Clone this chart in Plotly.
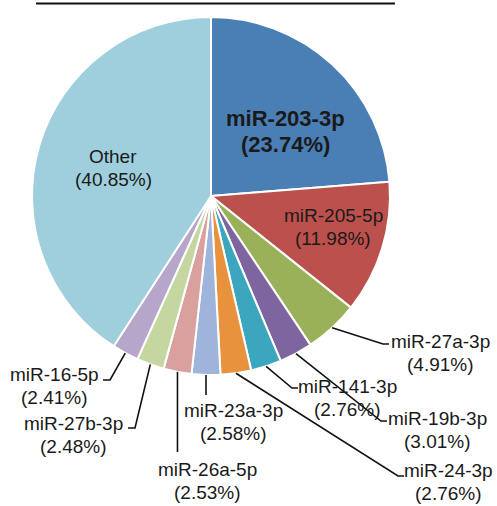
import math
import plotly.graph_objects as go

# miRNA read share (%), clockwise from 12 o'clock
mirnas = ["miR-203-3p", "miR-205-5p", "miR-27a-3p", "miR-19b-3p", "miR-141-3p",
          "miR-24-3p", "miR-23a-3p", "miR-26a-5p", "miR-27b-3p", "miR-16-5p", "Other"]
shares = [23.74, 11.98, 4.91, 3.01, 2.76, 2.76, 2.58, 2.53, 2.48, 2.41, 40.85]
colors = ["#4A7FB5", "#BC504C", "#99B25A", "#7E65A0", "#3CA6BF", "#E8923E",
          "#9EB4DA", "#D9A09E", "#C5D7A1", "#B5A6CA", "#9FCEDD"]

W, H = 497, 506
CX, CY, R = 211, 196, 179  # pie centre and radius in pixels
FONT = "Liberation Sans, Arial, sans-serif"


def px(x):
    return x / W


def py(y):
    return 1 - y / H


fig = go.Figure(go.Pie(
    labels=mirnas,
    values=shares,
    sort=False,
    direction="clockwise",
    rotation=0,
    marker=dict(colors=colors, line=dict(color="white", width=2)),
    textinfo="none",
    hoverinfo="label+percent",
    domain=dict(x=[px(CX - R), px(CX + R)], y=[py(CY + R), py(CY - R)]),
    showlegend=False,
))

# label placement: text-block centre, and leader-line elbow/end points
label_layout = {
    "miR-203-3p": dict(pos=(285, 131), bold=True),
    "miR-205-5p": dict(pos=(333, 227)),
    "Other": dict(pos=(113, 168)),
    "miR-27a-3p": dict(pos=(440, 353), leader=[(383, 344), (389, 344)]),
    "miR-19b-3p": dict(pos=(437, 430), leader=[(381, 421), (387, 421)]),
    "miR-141-3p": dict(pos=(347, 398), leader=[(292, 388), (298, 388)]),
    "miR-24-3p": dict(pos=(448, 482), leader=[(398, 476), (404, 476)]),
    "miR-23a-3p": dict(pos=(233, 422), drop=395),
    "miR-26a-5p": dict(pos=(207, 481), drop=452),
    "miR-27b-3p": dict(pos=(73, 435), leader=[(135, 428), (128, 428)]),
    "miR-16-5p": dict(pos=(54, 386), leader=[(110, 380), (103, 380)]),
}

total = sum(shares)
annotations = []
shapes = []
cum = 0.0
for name, val in zip(mirnas, shares):
    mid = (cum + val / 2) / total * 2 * math.pi
    cum += val
    ax = CX + R * math.sin(mid)
    ay = CY - R * math.cos(mid)
    lay = label_layout[name]
    tx, ty = lay["pos"]
    bold = lay.get("bold", False)
    size = 22 if bold else 19
    pitch = 26 if bold else 23.5
    for i, line in enumerate([name, f"({val:.2f}%)"]):
        annotations.append(dict(
            x=px(tx), y=py(ty + (i - 0.5) * pitch), xref="paper", yref="paper",
            text=f"<b>{line}</b>" if bold else line,
            showarrow=False, xanchor="center", yanchor="middle",
            font=dict(family=FONT, size=size, color="#1a1a1a"),
        ))
    pts = None
    if "leader" in lay:
        pts = [(ax, ay)] + lay["leader"]
    elif "drop" in lay:
        pts = [(ax, ay), (ax, lay["drop"])]
    if pts:
        path = "M " + " L ".join(f"{px(x):.5f},{py(y):.5f}" for x, y in pts)
        shapes.append(dict(type="path", path=path, xref="paper", yref="paper",
                           line=dict(color="#111111", width=1.6)))

# rule across the top of the chart
shapes.append(dict(type="line", xref="paper", yref="paper",
                   x0=px(36), x1=px(395), y0=py(3.5), y1=py(3.5),
                   line=dict(color="#111111", width=2.2)))

fig.update_layout(
    width=W, height=H,
    margin=dict(l=0, r=0, t=0, b=0),
    paper_bgcolor="white",
    plot_bgcolor="white",
    annotations=annotations,
    shapes=shapes,
)

fig.write_html("out.html")
